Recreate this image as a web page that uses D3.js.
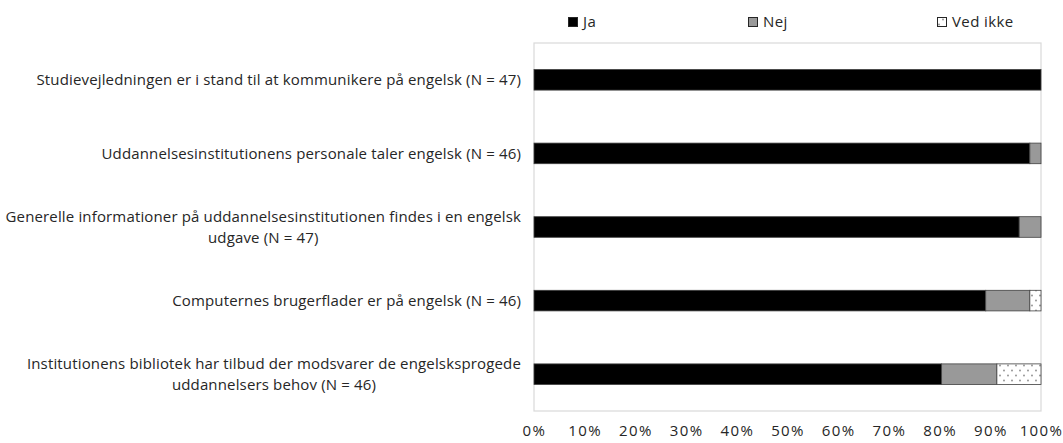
<!DOCTYPE html>
<html>
<head>
<meta charset="utf-8">
<script src="https://cdn.jsdelivr.net/npm/d3@7"></script>
<style>
  body { margin: 0; background: #fff; }
  text { font-family: "Open Sans", sans-serif; fill: #262626; }
</style>
</head>
<body>
<div id="chart"></div>
<script>
var svgwidth = 1063;
var svgheight = 443;
var margin = { top: 43, bottom: 32, right: 22, left: 534 };
var width = svgwidth - margin.left - margin.right;
var height = svgheight - margin.top - margin.bottom;

// data (share of respondents)
var categories = [
    ["Studievejledningen er i stand til at kommunikere på engelsk (N = 47)"],
    ["Uddannelsesinstitutionens personale taler engelsk (N = 46)"],
    ["Generelle informationer på uddannelsesinstitutionen findes i en engelsk", "udgave (N = 47)"],
    ["Computernes brugerflader er på engelsk (N = 46)"],
    ["Institutionens bibliotek har tilbud der modsvarer de engelsksprogede", "uddannelsers behov (N = 46)"]
];
var series = ["Ja", "Nej", "Ved ikke"];
var ja = [1.0, 0.978, 0.957, 0.891, 0.804];
var nej = [0.0, 0.022, 0.043, 0.087, 0.109];
var vedIkke = [0.0, 0.0, 0.0, 0.022, 0.087];
var tickValues = [0, 0.1, 0.2, 0.3, 0.4, 0.5, 0.6, 0.7, 0.8, 0.9, 1.0];

var rows = categories.map(function(c, i) {
    return { key: i, label: c, Ja: ja[i], Nej: nej[i], "Ved ikke": vedIkke[i] };
});

var svg = d3.select("#chart").append("svg").attr("width", svgwidth).attr("height", svgheight);

var defs = svg.append("defs");
var pat = defs.append("pattern").attr("id", "dots").attr("patternUnits", "userSpaceOnUse")
    .attr("width", 8).attr("height", 10);
pat.append("rect").attr("width", 8).attr("height", 10).attr("fill", "#fff");
pat.append("circle").attr("cx", 2).attr("cy", 2.5).attr("r", 0.9).attr("fill", "#8c8c8c");
pat.append("circle").attr("cx", 6).attr("cy", 7.5).attr("r", 0.9).attr("fill", "#8c8c8c");

var colors = { "Ja": "#000000", "Nej": "#999999", "Ved ikke": "url(#dots)" };

var chartGroup = svg.append("g").attr("transform", `translate(${margin.left}, ${margin.top})`);

var x = d3.scaleLinear().domain([0, 1]).range([0, width]);
var y = d3.scaleBand().domain(rows.map(d => d.key)).range([0, height]).paddingInner(0.72).paddingOuter(0.36);

// plot area border
chartGroup.append("rect")
    .attr("x", 0).attr("y", 0).attr("width", width).attr("height", height)
    .attr("fill", "none").attr("stroke", "#d9d9d9").attr("stroke-width", 1.2);

var stacked = d3.stack().keys(series)(rows);

chartGroup.selectAll("g.layer")
    .data(stacked)
    .enter().append("g")
    .attr("class", "layer")
    .attr("fill", d => colors[d.key])
    .selectAll("rect")
    .data(d => d.filter(p => p[1] - p[0] > 0))
    .enter().append("rect")
    .attr("x", d => x(d[0]))
    .attr("y", d => y(d.data.key))
    .attr("width", d => x(d[1]) - x(d[0]))
    .attr("height", y.bandwidth())
    .attr("stroke", "#404040")
    .attr("stroke-width", 0.8);

// x axis labels
var bottomAxis = d3.axisBottom(x).tickValues(tickValues).tickFormat(d3.format(".0%")).tickSize(0).tickPadding(14);
var xAxis = chartGroup.append("g").attr("transform", `translate(0, ${height})`).call(bottomAxis);
xAxis.select(".domain").remove();
xAxis.selectAll("text")
    .style("font-size", "15px")
    .style("letter-spacing", "1.4px")
    .style("font-family", "'Open Sans', sans-serif")
    .attr("fill", "#262626");

// category labels, centered block aligned to the right
var labelG = chartGroup.selectAll("g.label")
    .data(rows)
    .enter().append("g")
    .attr("class", "label");

labelG.each(function(d) {
    var g = d3.select(this);
    var cy = y(d.key) + y.bandwidth() / 2;
    var t = g.append("text").attr("text-anchor", "middle")
        .style("font-size", "15px").style("letter-spacing", "0.15px");
    var lh = 21;
    var n = d.label.length;
    d.label.forEach(function(line, i) {
        t.append("tspan").attr("x", 0).attr("y", cy + (i - (n - 1) / 2) * lh).attr("dy", "0.35em").text(line);
    });
    var w = t.node().getBBox().width;
    t.attr("transform", `translate(${-13 - w / 2}, 0)`);
});

// legend
var legendX = [568, 748, 937];
var legend = svg.append("g").attr("transform", "translate(0, 22)");
series.forEach(function(s, i) {
    var lg = legend.append("g").attr("transform", `translate(${legendX[i]}, 0)`);
    lg.append("rect").attr("x", 0.5).attr("y", -4.5).attr("width", 9).attr("height", 9)
        .attr("fill", colors[s]).attr("stroke", "#262626").attr("stroke-width", 1);
    lg.append("text").attr("x", 15).attr("y", 0).attr("dy", "0.35em")
        .style("font-size", "15px").style("letter-spacing", "0.4px").text(s);
});
</script>
</body>
</html>
